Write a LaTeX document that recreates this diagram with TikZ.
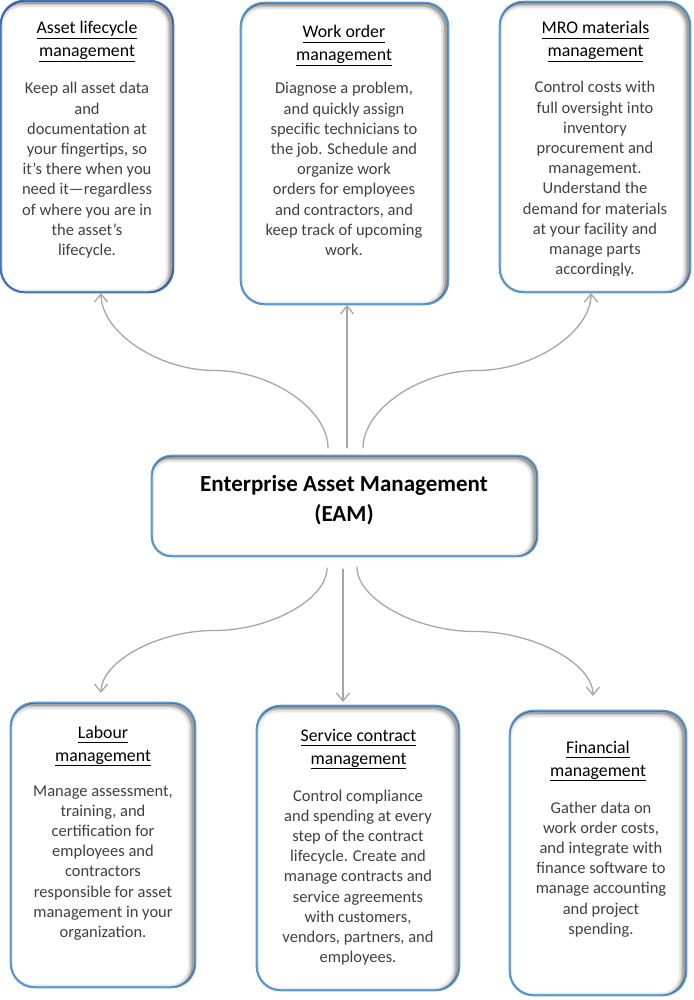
\documentclass[tikz,border=0pt]{standalone}
\usepackage{fontspec}
\setmainfont{Carlito}
\usetikzlibrary{arrows.meta}
\definecolor{bdark}{HTML}{4472C4}
\definecolor{blite}{HTML}{5B9BD5}
\definecolor{conncol}{HTML}{A6A6A6}
\definecolor{bodytext}{HTML}{404040}
\newcommand\myul[1]{\underline{#1\vphantom{gy}}}
\newcommand\tfont{\fontsize{17.8pt}{23pt}\selectfont}
\newcommand\bfnt{\fontsize{16.5pt}{20.2pt}\selectfont}
\newcommand\titletext[1]{\parbox[t]{230pt}{\centering\tfont #1}}
\newcommand\bodytxt[1]{\parbox[t]{230pt}{\centering\bfnt #1}}
% inner shadow along the right and top edges of a box node
\newcommand\inshadow[3]{%
  \begin{scope}
    \clip[rounded corners=#2] (#1.south west) rectangle (#1.north east);
    \foreach \lw/\op in {10/0.09,6/0.13,3/0.2}{
      \draw[line width=\lw pt, black, opacity=\op, rounded corners=#2]
        ([shift={(-2.5pt,-2pt)}]#1.south west) rectangle ([shift={(-2.5pt,-2pt)}]#1.north east);}
  \end{scope}
  \draw[rounded corners=#2, line width=1.3pt, draw=#3] (#1.south west) rectangle (#1.north east);
}
\tikzset{
  boxnode/.style={draw=blite, fill=white, line width=1.3pt, rounded corners=24pt, inner sep=0pt},
  txt/.style={inner sep=0pt, anchor=base},
  bodynode/.style={inner sep=0pt, anchor=base, text=bodytext},
  conn/.style={draw=conncol, line width=1.3pt, line cap=round, -{Straight Barb[length=8pt,width=13pt,line join=miter]}}
}
\begin{document}
\begin{tikzpicture}[x=1pt,y=-1pt]
\useasboundingbox (0,0) rectangle (693,1000);

% ---------- boxes ----------
\node[boxnode, draw=bdark, minimum width=172pt, minimum height=291pt] (asset) at (87,146.5) {};
\inshadow{asset}{24pt}{bdark}
\node[boxnode, minimum width=207pt, minimum height=301pt] (work) at (344.5,153.5) {};
\inshadow{work}{24pt}{blite}
\node[boxnode, minimum width=190pt, minimum height=290pt] (mro) at (595,147) {};
\inshadow{mro}{24pt}{blite}
\node[boxnode, rounded corners=20pt, minimum width=385pt, minimum height=100pt] (eam) at (344.5,506) {};
\inshadow{eam}{20pt}{blite}
\node[boxnode, minimum width=184pt, minimum height=284pt] (labour) at (103,845) {};
\inshadow{labour}{24pt}{blite}
\node[boxnode, minimum width=202pt, minimum height=284pt] (service) at (358,848) {};
\inshadow{service}{24pt}{blite}
\node[boxnode, minimum width=176pt, minimum height=284pt] (fin) at (598,853) {};
\inshadow{fin}{24pt}{blite}

% ---------- texts ----------
\node[txt] (assetT) at (87,34) {\titletext{\myul{Asset lifecycle}\\\myul{management}}};
\node[bodynode] (assetB) at (87,94) {\bodytxt{Keep all asset data\\and\\documentation at\\your fingertips, so\\it’s there when you\\need it—regardless\\of where you are in\\the asset’s\\lifecycle.}};

\node[txt] (workT) at (344,38) {\titletext{\myul{Work order}\\\myul{management}}};
\node[bodynode] (workB) at (344,94) {\bodytxt{Diagnose a problem,\\and quickly assign\\specific technicians to\\the job. Schedule and\\organize work\\orders for employees\\and contractors, and\\keep track of upcoming\\work.}};

\node[txt] (mroT) at (595.5,34) {\titletext{\myul{MRO materials}\\\myul{management}}};
\begin{scope}
  \clip (495,0) rectangle (693,275.5);
  \node[bodynode] (mroB) at (595,93) {\bodytxt{Control costs with\\full oversight into\\inventory\\procurement and\\management.\\Understand the\\demand for materials\\at your facility and\\manage parts\\accordingly.}};
\end{scope}

\node[txt] (eamT) at (344,491) {\parbox[t]{380pt}{\centering\fontsize{23pt}{30pt}\selectfont\bfseries Enterprise Asset Management\\(EAM)}};

\node[txt] (labourT) at (103,738) {\titletext{\myul{Labour}\\\myul{management}}};
\node[bodynode] (labourB) at (103,796) {\bodytxt{Manage assessment,\\training, and\\certification for\\employees and\\contractors\\responsible for asset\\management in your\\organization.}};

\node[txt] (serviceT) at (358.5,741) {\titletext{\myul{Service contract}\\\myul{management}}};
\node[bodynode] (serviceB) at (358,801) {\bodytxt{Control compliance\\and spending at every\\step of the contract\\lifecycle. Create and\\manage contracts and\\service agreements\\with customers,\\vendors, partners, and\\employees.}};

\node[txt] (finT) at (598,753) {\titletext{\myul{Financial}\\\myul{management}}};
\node[bodynode] (finB) at (601,813) {\bodytxt{Gather data on\\work order costs,\\and integrate with\\finance software to\\manage accounting\\and project\\spending.}};

% ---------- connectors ----------
\coordinate (s1) at (328,448);   \coordinate (e1) at (101,293);
\coordinate (s2) at (347,448);   \coordinate (e2) at (347,305);
\coordinate (s3) at (363,448);   \coordinate (e3) at (591,293);
\coordinate (s4) at (327,568);   \coordinate (e4) at (101,693);
\coordinate (s5) at (343,569);   \coordinate (e5) at (343,702);
\coordinate (s6) at (357,567);   \coordinate (e6) at (593,696);

\draw[conn] (s1) .. controls (328,409.25) and (271.25,370.5) .. (214.5,370.5)
                 .. controls (157.75,370.5) and (101,331.75) .. (e1);
\draw[conn] (s2) -- (e2);
\draw[conn] (s3) .. controls (363,409.25) and (420,370.5) .. (477,370.5)
                 .. controls (534,370.5) and (591,331.75) .. (e3);
\draw[conn] (s4) .. controls (327,599.25) and (270.5,630.5) .. (214,630.5)
                 .. controls (157.5,630.5) and (101,661.75) .. (e4);
\draw[conn] (s5) -- (e5);
\draw[conn] (s6) .. controls (357,599.25) and (416,631.5) .. (475,631.5)
                 .. controls (534,631.5) and (593,663.75) .. (e6);
\end{tikzpicture}
\end{document}
